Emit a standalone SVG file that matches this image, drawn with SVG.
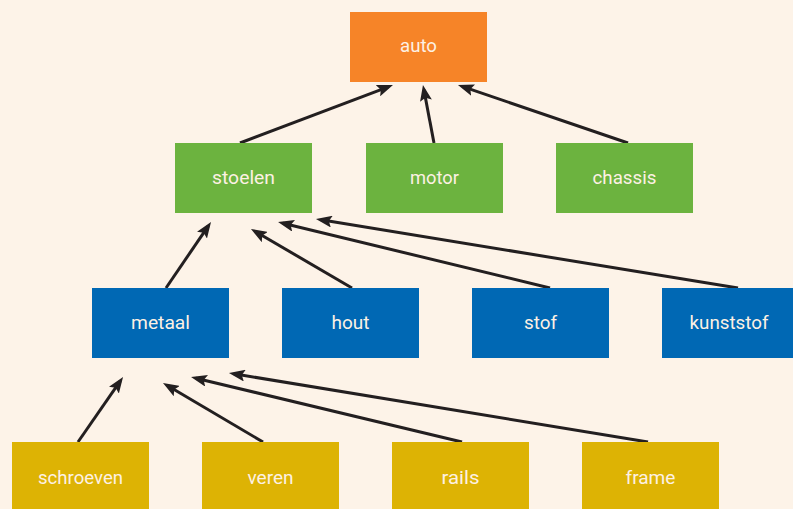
<svg xmlns="http://www.w3.org/2000/svg" width="793" height="509" viewBox="0 0 793 509">
<style>
.n rect{stroke:none}
.o{fill:#f68428}
.g{fill:#6cb33f}
.b{fill:#0068b4}
.y{fill:#ddb304}
text{font-family:Roboto,"Liberation Sans",sans-serif;font-size:19px;fill:#fdf1e4;text-anchor:middle}
.c line{stroke:#231f20;stroke-width:3;fill:none;marker-end:url(#ah)}
</style>
<defs>
<marker id="ah" markerUnits="userSpaceOnUse" markerWidth="16" markerHeight="12" refX="11" refY="6" orient="auto" viewBox="0 0 16 12">
<path d="M0,0 L16,6 L0,12 L3,6 z" fill="#231f20"/>
</marker>
</defs>
<rect width="793" height="509" fill="#fdf3e8"/>
<g class="c">
<line x1="240" y1="143" x2="388.3" y2="86.8"/>
<line x1="434" y1="143" x2="423.9" y2="89.9"/>
<line x1="628" y1="143" x2="462.7" y2="86.6"/>
<line x1="166" y1="288" x2="208.2" y2="226.1"/>
<line x1="352" y1="288" x2="255.3" y2="231.5"/>
<line x1="550" y1="288" x2="282.9" y2="223.2"/>
<line x1="738" y1="288" x2="320.9" y2="219.8"/>
<line x1="78" y1="442" x2="120.2" y2="381.1"/>
<line x1="263" y1="442" x2="167.3" y2="385.5"/>
<line x1="462" y1="442" x2="195.9" y2="378.2"/>
<line x1="648" y1="442" x2="233.9" y2="373.8"/>
</g>
<g id="auto" class="n"><rect class="o" x="350" y="12" width="137" height="70"/><text x="418.5" y="52" textLength="37" lengthAdjust="spacingAndGlyphs">auto</text></g>
<g id="stoelen" class="n"><rect class="g" x="175" y="143" width="137" height="70"/><text x="243.5" y="184" textLength="63" lengthAdjust="spacingAndGlyphs">stoelen</text></g>
<g id="motor" class="n"><rect class="g" x="366" y="143" width="137" height="70"/><text x="434.5" y="184" textLength="49" lengthAdjust="spacingAndGlyphs">motor</text></g>
<g id="chassis" class="n"><rect class="g" x="556" y="143" width="137" height="70"/><text x="624.5" y="184" textLength="64" lengthAdjust="spacingAndGlyphs">chassis</text></g>
<g id="metaal" class="n"><rect class="b" x="92" y="288" width="137" height="70"/><text x="160.5" y="329" textLength="59" lengthAdjust="spacingAndGlyphs">metaal</text></g>
<g id="hout" class="n"><rect class="b" x="282" y="288" width="137" height="70"/><text x="350.5" y="329" textLength="38" lengthAdjust="spacingAndGlyphs">hout</text></g>
<g id="stof" class="n"><rect class="b" x="472" y="288" width="137" height="70"/><text x="540.5" y="329" textLength="33" lengthAdjust="spacingAndGlyphs">stof</text></g>
<g id="kunststof" class="n"><rect class="b" x="662" y="288" width="137" height="70"/><text x="729" y="329" textLength="79" lengthAdjust="spacingAndGlyphs">kunststof</text></g>
<g id="schroeven" class="n"><rect class="y" x="12" y="442" width="137" height="70"/><text x="80.5" y="484" textLength="85" lengthAdjust="spacingAndGlyphs">schroeven</text></g>
<g id="veren" class="n"><rect class="y" x="202" y="442" width="137" height="70"/><text x="270.5" y="484" textLength="46" lengthAdjust="spacingAndGlyphs">veren</text></g>
<g id="rails" class="n"><rect class="y" x="392" y="442" width="137" height="70"/><text x="460.5" y="484" textLength="38" lengthAdjust="spacingAndGlyphs">rails</text></g>
<g id="frame" class="n"><rect class="y" x="582" y="442" width="137" height="70"/><text x="650.5" y="484" textLength="50" lengthAdjust="spacingAndGlyphs">frame</text></g>
</svg>
